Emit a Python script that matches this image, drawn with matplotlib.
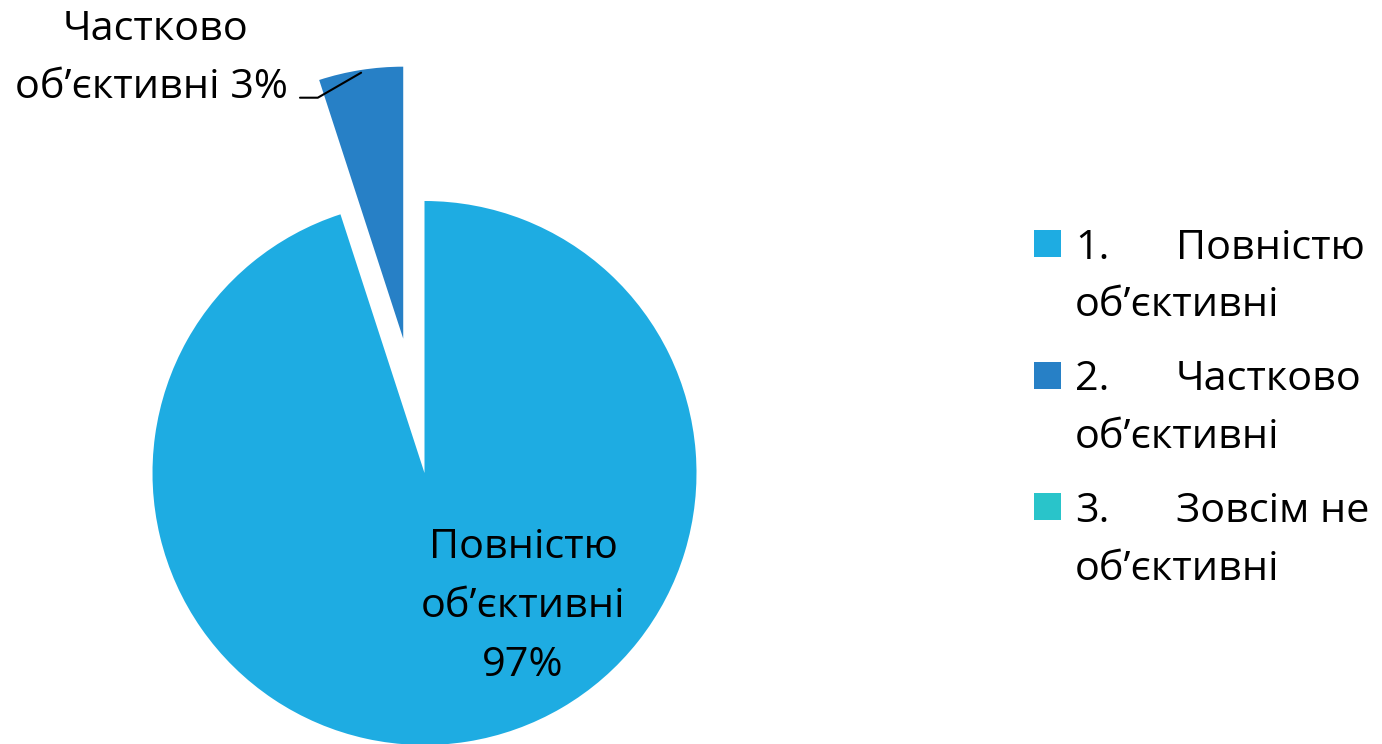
import matplotlib
matplotlib.use("Agg")
import matplotlib.pyplot as plt
from matplotlib.patches import Rectangle
import numpy as np

# ---- data ----
categories = ["1.\tПовністю об’єктивні", "2.\tЧастково об’єктивні", "3.\tЗовсім не об’єктивні"]
legend_numbers = ["1.", "2.", "3."]
legend_first = ["Повністю", "Частково", "Зовсім не"]
legend_second = ["об’єктивні", "об’єктивні", "об’єктивні"]
shares = [95, 5, 0]                     # slice sizes as drawn
pct_labels = ["97%", "3%"]              # percentages as printed
colors = ["#1EACE2", "#2780C6", "#29C4CA"]

W, H = 1382, 744
FONT = "Open Sans"
FS = 29.8

plt.rcParams['font.family'] = [FONT, 'DejaVu Sans']
fig = plt.figure(figsize=(W / 100, H / 100), dpi=100)
ax = fig.add_axes([0, 0, 1, 1])

R = 272.0
cx, cy = 424.5, 473.0   # pie centre in pixels (from top)
wedges, _ = ax.pie(shares, colors=colors, startangle=90, counterclock=False,
                   explode=[0, 0.5, 0], radius=1.0,
                   wedgeprops=dict(linewidth=0))
ax.set_xlim(-cx / R, (W - cx) / R)
ax.set_ylim(-(H - cy) / R, cy / R)
ax.set_aspect('auto')
ax.axis('off')


def ftext(x, y, s, ha='left'):
    fig.text(x / W, 1 - y / H, s, ha=ha, va='baseline', fontsize=FS, color='black')


# main slice label
ftext(523, 557.5, "Повністю", ha='center')
ftext(523, 617, "об’єктивні", ha='center')
ftext(523, 676.5, pct_labels[0], ha='center')

# small slice label
ftext(155, 39.5, "Частково", ha='center')
ftext(151, 98, "об’єктивні " + pct_labels[1], ha='center')

# leader line to mid-arc of exploded slice
w = wedges[1]
mid = np.deg2rad((w.theta1 + w.theta2) / 2)
target = (w.center[0] + 0.99 * np.cos(mid), w.center[1] + 0.99 * np.sin(mid))
ax.annotate('', xy=target, xycoords='data', xytext=(300, H - 97.7),
            textcoords='figure pixels',
            arrowprops=dict(arrowstyle='-', connectionstyle='angle,angleA=0,angleB=30,rad=0',
                            lw=1.5, color='black', shrinkA=0, shrinkB=0))

# legend
base = [259, 390.5, 522]
for i in range(3):
    b = base[i]
    fig.patches.append(Rectangle((1034 / W, 1 - (b - 2) / H), 27 / W, 27 / H,
                                 transform=fig.transFigure, facecolor=colors[i],
                                 edgecolor='none'))
    ftext(1075, b, legend_numbers[i])
    ftext(1176, b, legend_first[i])
    ftext(1075, b + 57.5, legend_second[i])

fig.savefig("out.png", dpi=100, facecolor='white')
